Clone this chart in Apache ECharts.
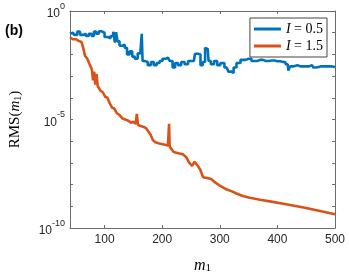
<!DOCTYPE html>
<html><head><meta charset="utf-8">
<script src="https://cdn.jsdelivr.net/npm/echarts@6/dist/echarts.min.js"></script>
<style>html,body{margin:0;padding:0;background:#fff}#c{width:349px;height:279px}</style>
</head><body><div id="c"></div>
<script>
const seriesNames = ['I = 0.5', 'I = 1.5'];
const m1Blue = [40,45,50,55,60,65,70,75,80,83,88,92,97,103,108,113,117,119,121,124,128,133,137,141,146,150,155,160,164,165,167,172,178,183,188,193,198,203,210,216,220,225,230,236,242,248,255,259,265,268,273,276,279,282,287,293,298,304,312,318,322,326,332,340,350,360,370,380,390,400,410,418,420,424,430,440,450,460,465,470,480,490,500];
const rmsBlue = [8.9e-2,1.0e-1,7.9e-2,1.12e-1,7.9e-2,8.9e-2,7.1e-2,8.9e-2,7.1e-2,1.12e-1,8.9e-2,1.17e-1,1.0e-1,6.3e-2,5.6e-2,7.1e-2,1.12e-1,3.5e-2,1.05e-1,4.0e-2,2.5e-2,2.8e-2,2.0e-2,1.0e-2,1.4e-2,7.9e-3,6.3e-3,1.12e-2,1.0e-2,8.9e-2,5.0e-3,4.5e-3,3.2e-3,4.5e-3,3.2e-3,4.0e-3,5.0e-3,6.3e-3,7.1e-3,5.0e-3,2.5e-3,4.0e-3,3.2e-3,4.5e-3,3.5e-3,5.0e-3,5.0e-3,1.07e-2,1.0e-2,3.2e-3,4.5e-3,2.0e-2,1.8e-2,5.0e-3,3.5e-3,5.0e-3,3.2e-3,4.0e-3,2.5e-3,1.6e-3,1.4e-3,2.5e-3,4.0e-3,5.6e-3,6.3e-3,5.0e-3,5.6e-3,5.0e-3,5.2e-3,4.8e-3,4.5e-3,3.5e-3,1.8e-3,2.8e-3,3.2e-3,2.8e-3,2.8e-3,3.2e-3,2.5e-3,2.8e-3,2.8e-3,2.8e-3,2.6e-3];
const m1Orange = [40,45,50,55,60,63,66,70,74,78,80,82,84,86,88,90,93,97,101,105,109,113,117,121,126,131,136,141,146,150,154,156,158,163,168,172,176,180,184,188,195,203,210,211,212,213,215,220,228,236,242,247,252,256,261,266,271,278,285,292,300,310,320,330,340,352,370,392,420,450,480,500];
const rmsOrange = [6.2e-2,5.0e-2,5.0e-2,4.2e-2,3.7e-2,2.0e-2,8.7e-3,6.3e-3,3.5e-3,2.0e-3,6.3e-4,1.6e-3,4.0e-4,1.26e-3,3.5e-4,3.2e-4,2.1e-4,1.8e-4,1.12e-4,1.0e-4,5.6e-5,3.5e-5,3.2e-5,2.0e-5,1.6e-5,1.12e-5,1.0e-5,8.9e-6,7.1e-6,7.9e-6,6.3e-6,1.8e-5,5.6e-6,5.0e-6,4.5e-6,4.0e-6,2.8e-6,2.0e-6,1.12e-6,8.9e-7,7.9e-7,7.1e-7,6.3e-7,6.0e-7,6.3e-6,5.6e-7,5.0e-7,3.2e-7,2.8e-7,2.5e-7,1.8e-7,1.0e-7,7.4e-8,1.12e-7,7.9e-8,5.0e-8,2.2e-8,2.0e-8,1.8e-8,1.26e-8,8.9e-9,6.3e-9,5.0e-9,3.8e-9,3.0e-9,2.5e-9,2.0e-9,1.6e-9,1.17e-9,8.3e-10,5.6e-10,4.3e-10];
const xTickLabels = [100, 200, 300, 400, 500];
const yLabelExponents = [0, -5, -10];

const axisColor = '#6b6b6b';
const textColor = '#262626';
const mathFont = "'Liberation Serif', 'DejaVu Serif', serif";
const sansFont = "'Liberation Sans', Arial, sans-serif";

const chart = echarts.init(document.getElementById('c'));
const pairs = (xs, ys) => xs.map((x, i) => [x, ys[i]]);

const legendRich = {
  i: {fontFamily: mathFont, fontStyle: 'italic', fontSize: 14, color: '#000'},
  t: {fontFamily: mathFont, fontSize: 14, color: '#000'}
};

chart.setOption({
  animation: false,
  backgroundColor: '#fff',
  grid: {left: 62, right: 14, top: 11, bottom: 45, containLabel: false},
  legend: {
    orient: 'vertical', right: 22, top: 18,
    data: seriesNames,
    icon: 'rect', itemWidth: 27, itemHeight: 3, itemGap: 3,
    padding: [4, 4, 4, 4],
    borderColor: '#444', borderWidth: 1, backgroundColor: '#fff',
    formatter: n => '{i|I}{t| = ' + n.split('= ')[1] + '}',
    textStyle: {rich: legendRich}
  },
  graphic: [{type: 'text', left: 5, top: 24, style: {text: '(b)', font: 'bold 14px ' + sansFont, fill: '#000'}}],
  xAxis: [{
    type: 'value', min: 40, max: 500, position: 'bottom',
    axisLine: {show: true, lineStyle: {color: axisColor}},
    axisTick: {show: true, inside: true, length: 3, lineStyle: {color: axisColor}, customValues: xTickLabels},
    axisLabel: {color: textColor, fontFamily: sansFont, fontSize: 12, margin: 6, customValues: xTickLabels},
    splitLine: {show: false},
    name: '{i|m}{s|1}', nameLocation: 'middle', nameGap: 29,
    nameTextStyle: {rich: {
      i: {fontFamily: mathFont, fontStyle: 'italic', fontSize: 16, color: '#000', verticalAlign: 'bottom'},
      s: {fontFamily: mathFont, fontSize: 11, color: '#000', verticalAlign: 'bottom', padding: [6, 0, 0, 0]}
    }}
  }, {
    type: 'value', min: 40, max: 500, position: 'top',
    axisLine: {show: true, lineStyle: {color: axisColor}},
    axisTick: {show: true, inside: true, length: 3, lineStyle: {color: axisColor}, customValues: xTickLabels},
    axisLabel: {show: false}, splitLine: {show: false}
  }],
  yAxis: [{
    type: 'log', logBase: 10, min: 1e-10, max: 1, interval: 1, position: 'left',
    axisLine: {show: true, lineStyle: {color: axisColor}},
    axisTick: {show: true, inside: true, length: 3, lineStyle: {color: axisColor}},
    axisLabel: {
      color: textColor, margin: 5,
      formatter: v => {
        const e = Math.round(Math.log10(v));
        return yLabelExponents.indexOf(e) >= 0 ? '{b|10}{s|' + e + '}' : '';
      },
      rich: {
        b: {fontFamily: sansFont, fontSize: 12, color: textColor, verticalAlign: 'bottom', padding: [6, 0, 0, 0]},
        s: {fontFamily: sansFont, fontSize: 9, color: textColor, verticalAlign: 'top', padding: [0, 0, 4, 0]}
      }
    },
    splitLine: {show: false},
    name: '{t|RMS(}{i|m}{s|1}{t|)}', nameLocation: 'middle', nameGap: 47, nameRotate: 90,
    nameTextStyle: {padding: [0, 0, 0, 0], rich: {
      t: {fontFamily: mathFont, fontSize: 15, color: '#000', verticalAlign: 'bottom'},
      i: {fontFamily: mathFont, fontStyle: 'italic', fontSize: 15, color: '#000', verticalAlign: 'bottom'},
      s: {fontFamily: mathFont, fontSize: 10, color: '#000', verticalAlign: 'bottom', padding: [6, 0, 0, 0]}
    }}
  }, {
    type: 'log', logBase: 10, min: 1e-10, max: 1, interval: 1, position: 'right',
    axisLine: {show: true, lineStyle: {color: axisColor}},
    axisTick: {show: true, inside: true, length: 3, lineStyle: {color: axisColor}},
    axisLabel: {show: false}, splitLine: {show: false}
  }],
  series: [{
    name: seriesNames[0], type: 'line', xAxisIndex: 0, yAxisIndex: 0, step: 'middle',
    data: pairs(m1Blue, rmsBlue), showSymbol: false, symbol: 'none',
    lineStyle: {color: '#0072BD', width: 2.6}, itemStyle: {color: '#0072BD'}, z: 3
  }, {
    name: seriesNames[1], type: 'line', xAxisIndex: 0, yAxisIndex: 0,
    data: pairs(m1Orange, rmsOrange), showSymbol: false, symbol: 'none',
    lineStyle: {color: '#D95319', width: 2.6}, itemStyle: {color: '#D95319'}, z: 2
  }]
});
</script>
</body></html>
